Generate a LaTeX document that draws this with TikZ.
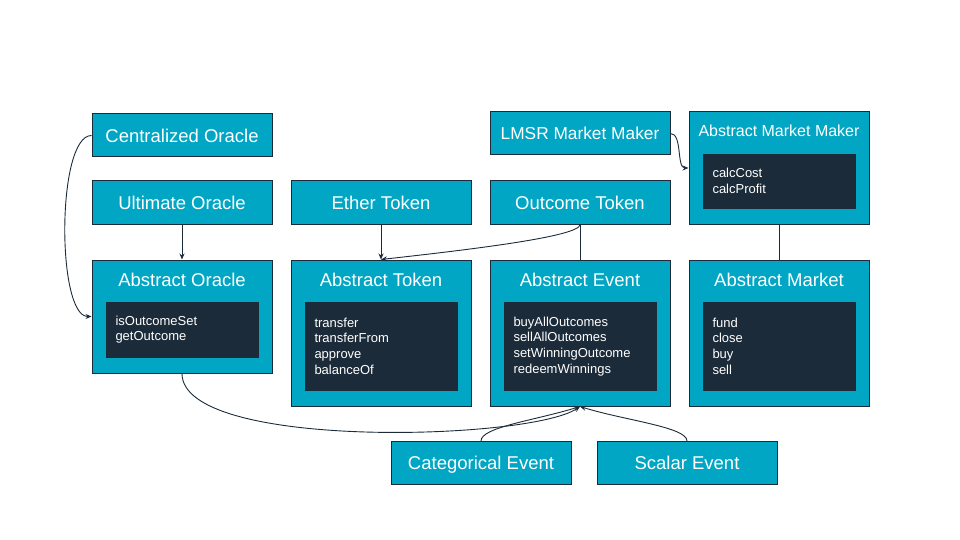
\documentclass[tikz,border=0pt]{standalone}
\usepackage{fontspec}
\setmainfont{Liberation Sans}
\usetikzlibrary{arrows.meta}
\definecolor{boxcyan}{HTML}{00A6C4}
\definecolor{boxdark}{HTML}{1C2B39}
\tikzset{
  cls/.style={draw=boxdark, line width=1pt, fill=boxcyan, text=white, inner sep=0pt,
    minimum width=180pt, minimum height=43pt, text height=13.3pt, text depth=0pt,
    font=\fontsize{18.5}{20}\selectfont},
  ttl/.style={text=white, inner sep=0pt, text height=13.3pt, text depth=0pt,
    font=\fontsize{18.5}{20}\selectfont},
  meth/.style={fill=boxdark, text=white, inner xsep=10pt, inner ysep=0pt, text width=133pt,
    align=left, minimum height=#1, anchor=north, font=\fontsize{13}{15.7}\selectfont},
  link/.style={draw=boxdark, line width=0.9pt},
}
\begin{document}
\begin{tikzpicture}[x=1pt, y=-1pt, >={Stealth[length=6pt,width=5pt]}]
    \useasboundingbox (0,0) rectangle (960,540);
    % oracles
    \node [cls] (coracle) at (182,135.5) {Centralized Oracle};
    \node [cls] (uoracle) at (182,202.5) {Ultimate Oracle};
    \node [cls, minimum height=113pt] (aoracle) at (182,316.5) {};
    \node [ttl] at ([yshift=-20.5pt]aoracle.north) {Abstract Oracle};
    \node [meth=56pt] (aoracle-m) at ([yshift=-42pt]aoracle.north) {isOutcomeSet\\getOutcome};
    % tokens
    \node [cls] (etoken) at (381,202.5) {Ether Token};
    \node [cls] (otoken) at (580,202.5) {Outcome Token};
    \node [cls, minimum height=146pt] (atoken) at (381,333) {};
    \node [ttl] at ([yshift=-20.5pt]atoken.north) {Abstract Token};
    \node [meth=89pt] (atoken-m) at ([yshift=-42pt]atoken.north) {transfer\\transferFrom\\approve\\balanceOf};
    % events
    \node [cls, minimum height=146pt] (aevent) at (580,333) {};
    \node [ttl] at ([yshift=-20.5pt]aevent.north) {Abstract Event};
    \node [meth=89pt] (aevent-m) at ([yshift=-42pt]aevent.north) {buyAllOutcomes\\sellAllOutcomes\\setWinningOutcome\\redeemWinnings};
    \node [cls] (cevent) at (481,463) {Categorical Event};
    \node [cls] (sevent) at (687,463) {Scalar Event};
    % markets
    \node [cls, font=\fontsize{17.3}{19}\selectfont, text height=12.4pt] (lmsr) at (580,133.5) {LMSR Market Maker};
    \node [cls, minimum height=112pt] (amm) at (779,168) {};
    \node [ttl, font=\fontsize{16}{18}\selectfont, text height=11.5pt] at ([yshift=-19pt]amm.north) {Abstract Market Maker};
    \node [meth=55pt] (amm-m) at ([yshift=-42pt]amm.north) {calcCost\\calcProfit};
    \node [cls, minimum height=146pt] (amarket) at (779,333) {};
    \node [ttl] at ([yshift=-20.5pt]amarket.north) {Abstract Market};
    \node [meth=89pt] (amarket-m) at ([yshift=-42pt]amarket.north) {fund\\close\\buy\\sell};
    % connectors
    \draw [link, ->] (uoracle) -- (aoracle);
    \draw [link, ->] (etoken) -- (atoken);
    \draw [link] (otoken) -- (aevent);
    \draw [link] (amm) -- (amarket);
    \draw [link, ->] (coracle.west) .. controls +(-35,0) and +(-35,0) .. (aoracle.west);
    \draw [link, ->] (otoken.south) .. controls +(0,12) and +(90,-10) .. (atoken.north);
    \draw [link, ->] (lmsr.east) .. controls +(12,0) and +(-12,0) .. (amm.west);
    \draw [link, ->] (aoracle.south) .. controls +(0,77) and +(-50,34) .. (aevent.south);
    \draw [link, ->] (cevent.north) .. controls +(0,-14) and +(-45,14) .. (aevent.south);
    \draw [link, ->] (sevent.north) .. controls +(0,-14) and +(45,14) .. (aevent.south);
\end{tikzpicture}
\end{document}
